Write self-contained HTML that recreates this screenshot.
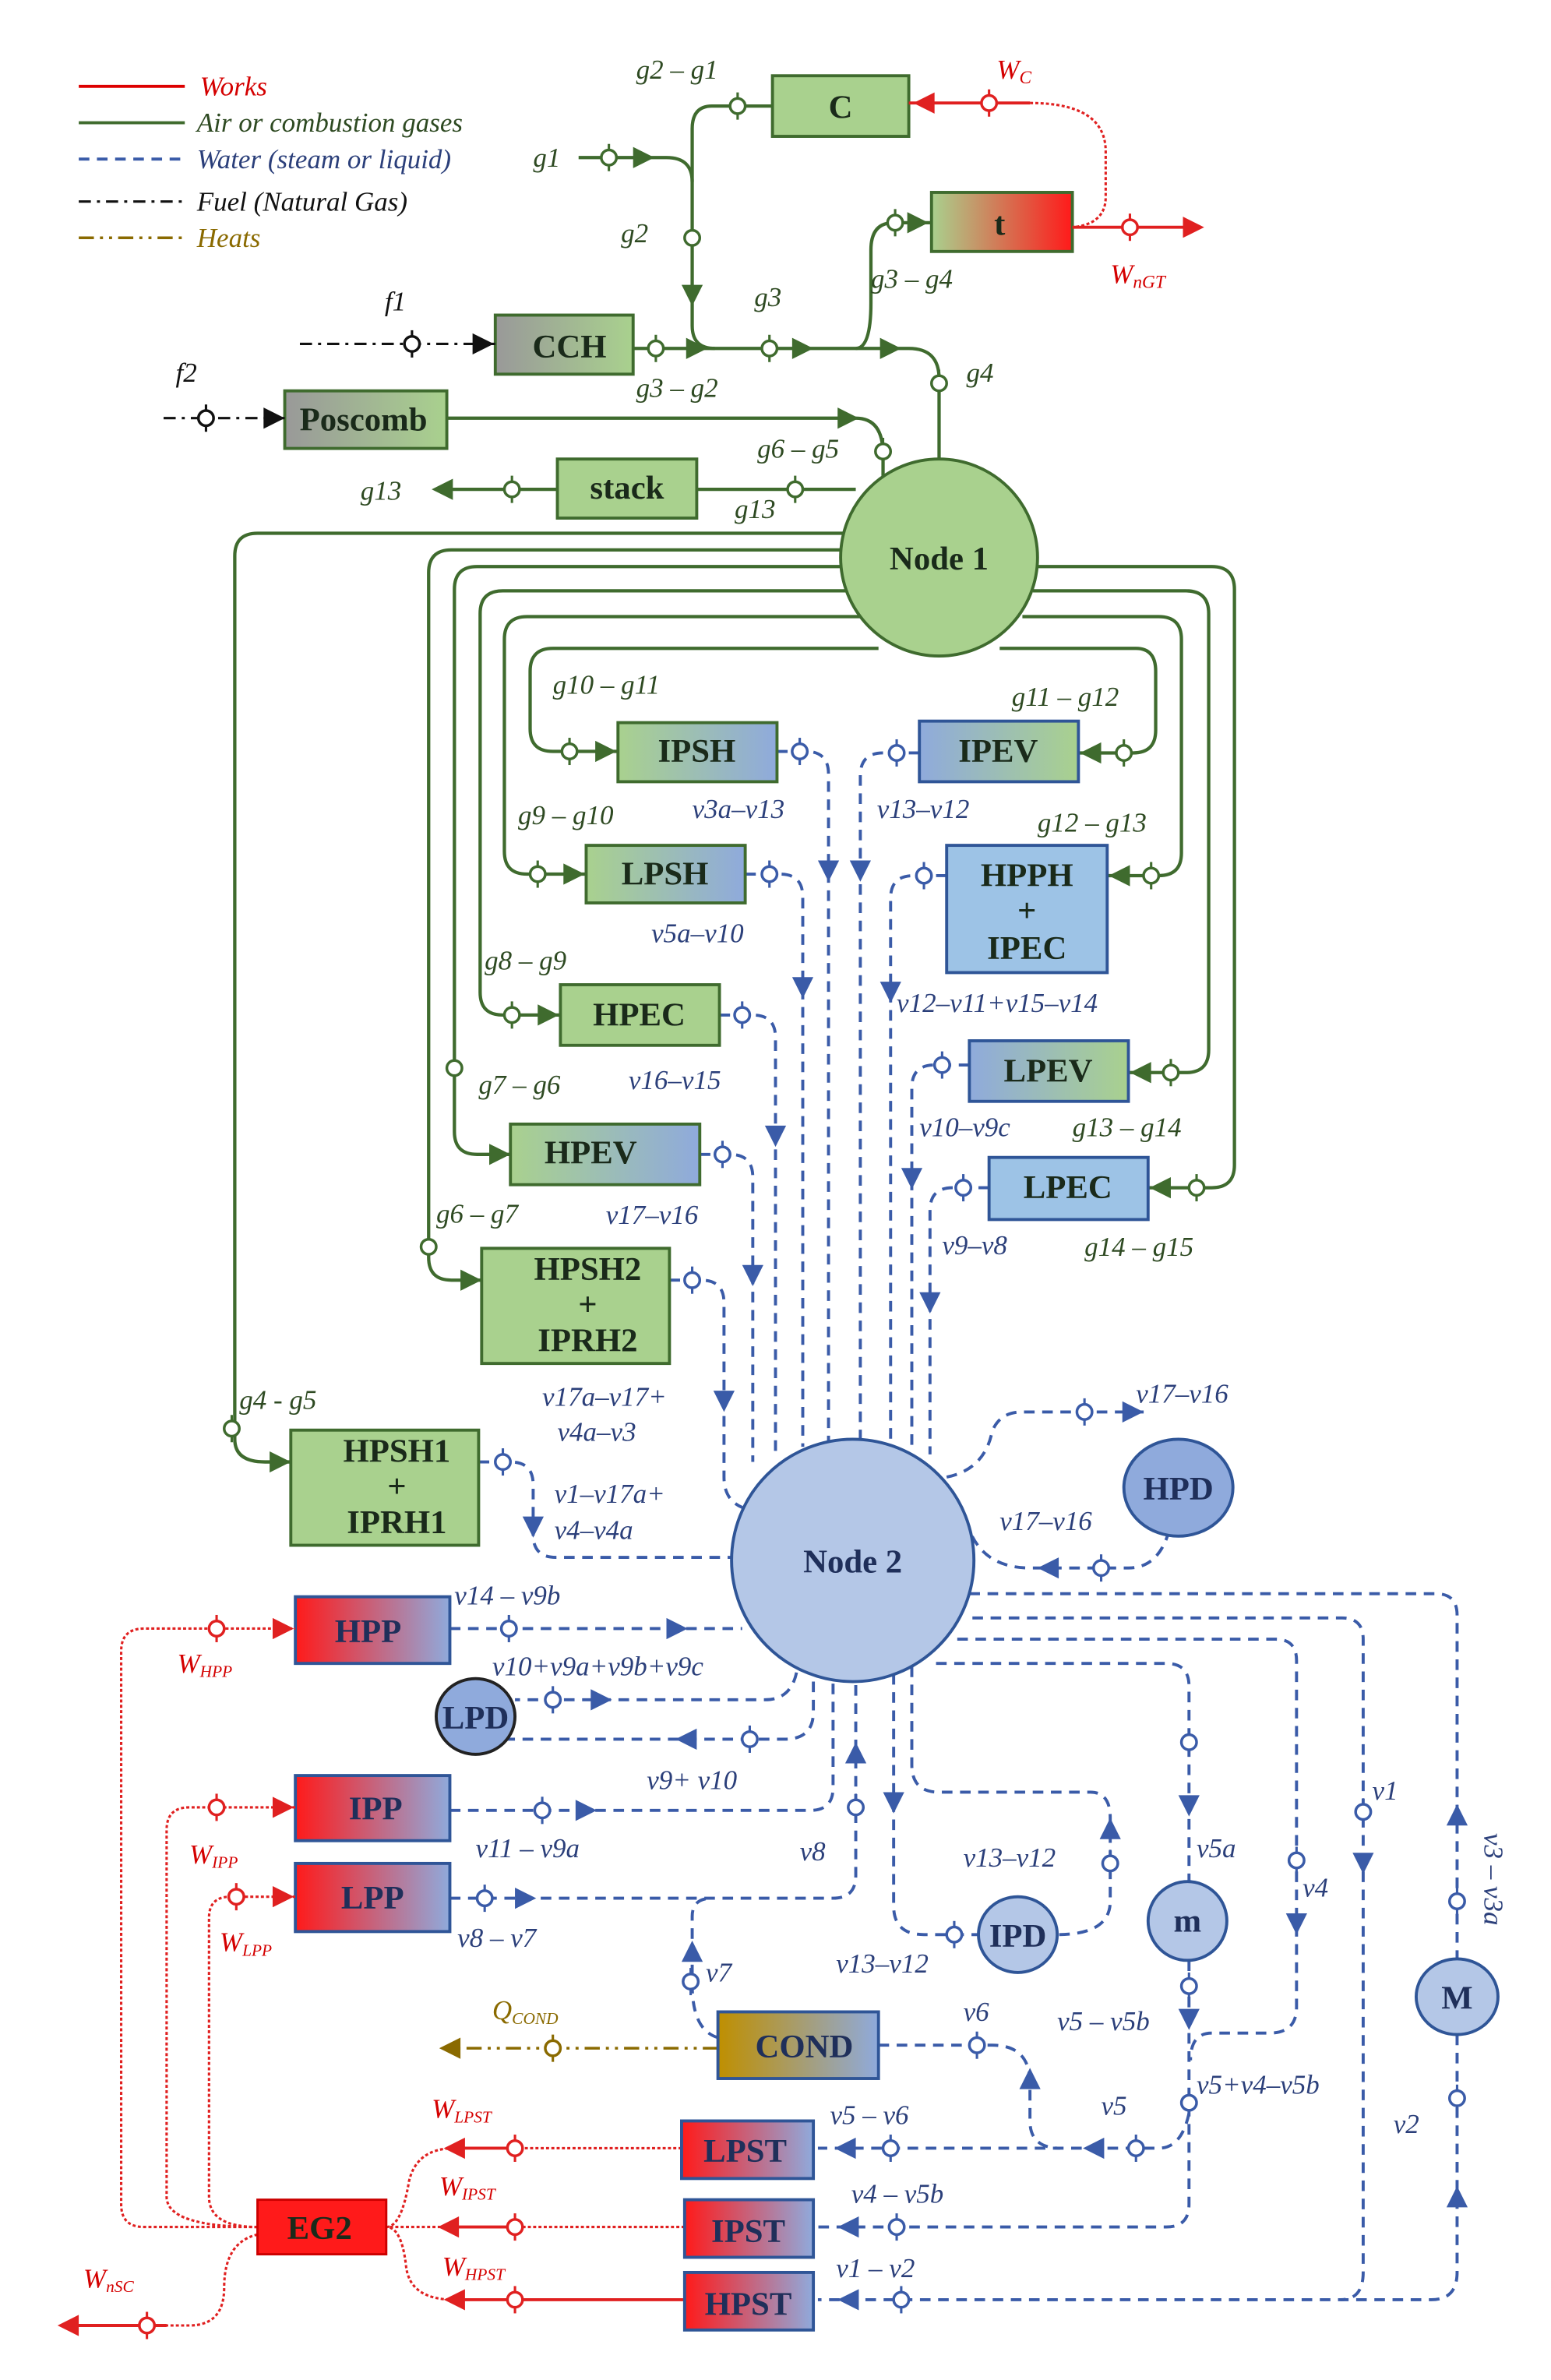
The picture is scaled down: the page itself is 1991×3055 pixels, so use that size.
<!DOCTYPE html>
<html><head><meta charset="utf-8"><style>
html,body{margin:0;padding:0;background:#fff;}
svg{display:block;}
text{font-family:"Liberation Serif",serif;}
.l{font-style:italic;font-size:18px;}
.lg{fill:#2e4a22;} .lb{fill:#2b3f7a;} .lr{fill:#d40000;} .ly{fill:#8a6a00;}
.bt{font-weight:bold;font-size:22px;fill:#1a2a1a;text-anchor:middle;}
.bb{font-weight:bold;font-size:22px;fill:#1f2f5a;text-anchor:middle;}
.g{stroke:#3f6b2e;stroke-width:2.2;fill:none;}
.b{stroke:#3a5ba8;stroke-width:2;fill:none;stroke-dasharray:7 5;}
.r{stroke:#e02020;stroke-width:1.6;fill:none;stroke-dasharray:2 1.5;}
.rs{stroke:#e02020;stroke-width:2;fill:none;}
.k{stroke:#111;stroke-width:1.6;fill:none;stroke-dasharray:8 4 2 4;}
.y{stroke:#8a6a00;stroke-width:1.8;fill:none;stroke-dasharray:10 4 2 4 2 4;}
.bxg{stroke:#3f6b2e;stroke-width:2;}
.bxb{stroke:#2f5597;stroke-width:2;}
</style></head><body>
<svg width="1991" height="3055" viewBox="0 0 1024 1571" preserveAspectRatio="none" xmlns="http://www.w3.org/2000/svg">
<defs>
<linearGradient id="gGB"><stop offset="0" stop-color="#a9d18e"/><stop offset="1" stop-color="#8faadc"/></linearGradient>
<linearGradient id="gBG"><stop offset="0" stop-color="#8faadc"/><stop offset="1" stop-color="#a9d18e"/></linearGradient>
<linearGradient id="gGR"><stop offset="0" stop-color="#a9d18e"/><stop offset="1" stop-color="#ff1a1a"/></linearGradient>
<linearGradient id="gKG"><stop offset="0" stop-color="#999"/><stop offset="1" stop-color="#a9d18e"/></linearGradient>
<linearGradient id="gRB"><stop offset="0" stop-color="#ff1a1a"/><stop offset="1" stop-color="#8faadc"/></linearGradient>
<linearGradient id="gYB"><stop offset="0" stop-color="#bf8f00"/><stop offset="1" stop-color="#8faadc"/></linearGradient>
<g id="a"><path d="M7,0 L-7,-7 L-7,7 Z"/></g>
<g id="p"><line x1="0" y1="-9" x2="0" y2="9" stroke-width="1.6"/><circle r="5" fill="#fff" stroke-width="1.8"/></g>
</defs>

<line x1="52" y1="57" x2="122" y2="57" stroke="#d00" stroke-width="2"/>
<text x="132" y="63" class="l lr">Works</text>
<line x1="52" y1="81" x2="122" y2="81" stroke="#3f6b2e" stroke-width="2"/>
<text x="130" y="87" class="l lg">Air or combustion gases</text>
<line x1="52" y1="105" x2="122" y2="105" stroke="#3a5ba8" stroke-width="2" stroke-dasharray="7 5"/>
<text x="130" y="111" class="l lb">Water (steam or liquid)</text>
<line x1="52" y1="133" x2="122" y2="133" class="k"/>
<text x="130" y="139" class="l" fill="#111">Fuel (Natural Gas)</text>
<line x1="52" y1="157" x2="122" y2="157" class="y"/>
<text x="130" y="163" class="l ly">Heats</text>

<rect x="510" y="50" width="90" height="40" fill="#a9d18e" class="bxg"/><text x="555" y="78" class="bt">C</text>
<text x="420" y="52" class="l lg">g2 – g1</text>
<path class="g" d="M510,70 H470 Q457,70 457,85 V215 Q457,230 472,230"/>
<use href="#p" x="487" y="70" stroke="#3f6b2e"/>
<use href="#p" x="457" y="157" stroke="#3f6b2e"/>
<use href="#a" transform="translate(457,195) rotate(90)" fill="#3f6b2e"/>
<text x="410" y="160" class="l lg">g2</text>
<text x="352" y="110" class="l lg">g1</text>
<path class="g" d="M382,104 H440 Q457,104 457,120"/>
<use href="#p" x="402" y="104" stroke="#3f6b2e"/>
<use href="#a" transform="translate(425,104)" fill="#3f6b2e"/>

<path class="rs" d="M600,68 H680"/>
<path class="r" d="M680,68 Q730,68 730,100 V130 Q730,148 708,150"/>
<use href="#a" transform="translate(610,68) rotate(180)" fill="#e02020"/>
<use href="#p" x="653" y="68" stroke="#e02020"/>
<text x="658" y="52" class="l lr">W<tspan font-size="12" dy="3">C</tspan></text>

<rect x="615" y="127" width="93" height="39" fill="url(#gGR)" class="bxg"/><text x="660" y="155" class="bt">t</text>
<path class="g" d="M565,230 Q575,230 575,200 V165 Q575,147 590,147 H615"/>
<use href="#p" x="591" y="147" stroke="#3f6b2e"/>
<use href="#a" transform="translate(606,147)" fill="#3f6b2e"/>
<text x="575" y="190" class="l lg">g3 – g4</text>
<path class="rs" d="M708,150 H790"/>
<use href="#p" x="746" y="150" stroke="#e02020"/>
<use href="#a" transform="translate(788,150)" fill="#e02020"/>
<text x="733" y="187" class="l lr">W<tspan font-size="12" dy="3">nGT</tspan></text>

<rect x="327" y="208" width="91" height="39" fill="url(#gKG)" class="bxg"/><text x="376" y="236" class="bt">CCH</text>
<path class="k" d="M198,227 H327"/>
<use href="#p" x="272" y="227" stroke="#111"/>
<use href="#a" transform="translate(319,227)" fill="#111"/>
<text x="254" y="205" class="l" fill="#111">f1</text>
<path class="g" d="M418,230 H600 Q620,230 620,250 V305"/>
<use href="#p" x="433" y="230" stroke="#3f6b2e"/>
<use href="#p" x="508" y="230" stroke="#3f6b2e"/>
<use href="#p" x="620" y="253" stroke="#3f6b2e"/>
<use href="#a" transform="translate(460,230)" fill="#3f6b2e"/>
<use href="#a" transform="translate(530,230)" fill="#3f6b2e"/>
<use href="#a" transform="translate(588,230)" fill="#3f6b2e"/>
<text x="420" y="262" class="l lg">g3 – g2</text>
<text x="498" y="202" class="l lg">g3</text>
<text x="638" y="252" class="l lg">g4</text>

<rect x="188" y="258" width="107" height="38" fill="url(#gKG)" class="bxg"/><text x="240" y="284" class="bt">Poscomb</text>
<path class="k" d="M108,276 H188"/>
<use href="#p" x="136" y="276" stroke="#111"/>
<use href="#a" transform="translate(181,276)" fill="#111"/>
<text x="116" y="252" class="l" fill="#111">f2</text>
<path class="g" d="M295,276 H565 Q583,276 583,300 V318"/>
<use href="#a" transform="translate(560,276)" fill="#3f6b2e"/>
<use href="#p" x="583" y="298" stroke="#3f6b2e"/>
<text x="500" y="302" class="l lg">g6 – g5</text>

<path class="g" d="M565,323 H460 M368,323 H290"/>
<rect x="368" y="303" width="92" height="39" fill="#a9d18e" class="bxg"/><text x="414" y="329" class="bt">stack</text>
<use href="#p" x="525" y="323" stroke="#3f6b2e"/>
<use href="#p" x="338" y="323" stroke="#3f6b2e"/>
<use href="#a" transform="translate(292,323) rotate(180)" fill="#3f6b2e"/>
<text x="485" y="342" class="l lg">g13</text>
<text x="238" y="330" class="l lg">g13</text>

<path class="g" d="M560,352 H170 Q155,352 155,367 V950 Q155,965 175,965 H192"/>
<use href="#p" x="153" y="943" stroke="#3f6b2e"/>
<use href="#a" transform="translate(185,965)" fill="#3f6b2e"/>
<text x="158" y="930" class="l lg">g4 - g5</text>

<path class="g" d="M560,363 H298 Q283,363 283,378 V830 Q283,845 298,845 H318"/>
<use href="#p" x="283" y="823" stroke="#3f6b2e"/>
<use href="#a" transform="translate(311,845)" fill="#3f6b2e"/>
<text x="288" y="807" class="l lg">g6 – g7</text>

<path class="g" d="M560,374 H315 Q300,374 300,389 V747 Q300,762 315,762 H337"/>
<use href="#p" x="300" y="705" stroke="#3f6b2e"/>
<use href="#a" transform="translate(330,762)" fill="#3f6b2e"/>
<text x="316" y="722" class="l lg">g7 – g6</text>

<path class="g" d="M562,390 H332 Q317,390 317,405 V655 Q317,670 332,670 H370"/>
<use href="#p" x="338" y="670" stroke="#3f6b2e"/>
<use href="#a" transform="translate(362,670)" fill="#3f6b2e"/>
<text x="320" y="640" class="l lg">g8 – g9</text>

<path class="g" d="M568,407 H348 Q333,407 333,422 V562 Q333,577 348,577 H387"/>
<use href="#p" x="355" y="577" stroke="#3f6b2e"/>
<use href="#a" transform="translate(379,577)" fill="#3f6b2e"/>
<text x="342" y="544" class="l lg">g9 – g10</text>

<path class="g" d="M580,428 H365 Q350,428 350,443 V481 Q350,496 365,496 H408"/>
<use href="#p" x="376" y="496" stroke="#3f6b2e"/>
<use href="#a" transform="translate(400,496)" fill="#3f6b2e"/>
<text x="365" y="458" class="l lg">g10 – g11</text>

<path class="g" d="M660,428 H750 Q763,428 763,443 V482 Q763,497 748,497 H712"/>
<use href="#p" x="742" y="497" stroke="#3f6b2e"/>
<use href="#a" transform="translate(720,497) rotate(180)" fill="#3f6b2e"/>
<text x="668" y="466" class="l lg">g11 – g12</text>

<path class="g" d="M675,407 H765 Q780,407 780,422 V563 Q780,578 765,578 H731"/>
<use href="#p" x="760" y="578" stroke="#3f6b2e"/>
<use href="#a" transform="translate(739,578) rotate(180)" fill="#3f6b2e"/>
<text x="685" y="549" class="l lg">g12 – g13</text>

<path class="g" d="M682,390 H783 Q798,390 798,405 V693 Q798,708 783,708 H745"/>
<use href="#p" x="773" y="708" stroke="#3f6b2e"/>
<use href="#a" transform="translate(753,708) rotate(180)" fill="#3f6b2e"/>
<text x="708" y="750" class="l lg">g13 – g14</text>

<path class="g" d="M685,374 H800 Q815,374 815,389 V769 Q815,784 800,784 H758"/>
<use href="#p" x="790" y="784" stroke="#3f6b2e"/>
<use href="#a" transform="translate(766,784) rotate(180)" fill="#3f6b2e"/>
<text x="716" y="829" class="l lg">g14 – g15</text>

<circle cx="620" cy="368" r="65" fill="#a9d18e" stroke="#3f6b2e" stroke-width="2"/>
<text x="620" y="376" class="bt">Node 1</text>

<path class="b" d="M513,496 H532 Q547,496 547,511 V955"/>
<use href="#p" x="528" y="496" stroke="#3a5ba8"/><use href="#a" transform="translate(547,575) rotate(90)" fill="#3a5ba8"/>
<text x="457" y="540" class="l lb">v3a–v13</text>
<path class="b" d="M607,497 H583 Q568,497 568,512 V952"/>
<use href="#p" x="592" y="497" stroke="#3a5ba8"/><use href="#a" transform="translate(568,575) rotate(90)" fill="#3a5ba8"/>
<text x="579" y="540" class="l lb">v13–v12</text>
<path class="b" d="M492,577 H515 Q530,577 530,592 V955"/>
<use href="#p" x="508" y="577" stroke="#3a5ba8"/><use href="#a" transform="translate(530,652) rotate(90)" fill="#3a5ba8"/>
<text x="430" y="622" class="l lb">v5a–v10</text>
<path class="b" d="M625,578 H603 Q588,578 588,593 V952"/>
<use href="#p" x="610" y="578" stroke="#3a5ba8"/><use href="#a" transform="translate(588,655) rotate(90)" fill="#3a5ba8"/>
<text x="592" y="668" class="l lb">v12–v11+v15–v14</text>
<path class="b" d="M475,670 H497 Q512,670 512,685 V958"/>
<use href="#p" x="490" y="670" stroke="#3a5ba8"/><use href="#a" transform="translate(512,750) rotate(90)" fill="#3a5ba8"/>
<text x="415" y="719" class="l lb">v16–v15</text>
<path class="b" d="M640,703 H617 Q602,703 602,718 V955"/>
<use href="#p" x="622" y="703" stroke="#3a5ba8"/><use href="#a" transform="translate(602,778) rotate(90)" fill="#3a5ba8"/>
<text x="607" y="750" class="l lb">v10–v9c</text>
<path class="b" d="M462,762 H482 Q497,762 497,777 V965"/>
<use href="#p" x="477" y="762" stroke="#3a5ba8"/><use href="#a" transform="translate(497,842) rotate(90)" fill="#3a5ba8"/>
<text x="400" y="808" class="l lb">v17–v16</text>
<path class="b" d="M653,784 H629 Q614,784 614,799 V960"/>
<use href="#p" x="636" y="784" stroke="#3a5ba8"/><use href="#a" transform="translate(614,860) rotate(90)" fill="#3a5ba8"/>
<text x="622" y="828" class="l lb">v9–v8</text>
<path class="b" d="M442,845 H463 Q478,845 478,860 V975 Q478,990 490,995"/>
<use href="#p" x="457" y="845" stroke="#3a5ba8"/><use href="#a" transform="translate(478,925) rotate(90)" fill="#3a5ba8"/>
<text x="358" y="928" class="l lb">v17a–v17+</text>
<text x="368" y="951" class="l lb">v4a–v3</text>
<path class="b" d="M316,965 H337 Q352,965 352,980 V1013 Q352,1028 367,1028 H485"/>
<use href="#p" x="332" y="965" stroke="#3a5ba8"/><use href="#a" transform="translate(352,1008) rotate(90)" fill="#3a5ba8"/>
<text x="366" y="992" class="l lb">v1–v17a+</text>
<text x="366" y="1016" class="l lb">v4–v4a</text>

<rect x="408" y="477" width="105" height="39" fill="url(#gGB)" class="bxg"/><text x="460" y="503" class="bt">IPSH</text>
<rect x="607" y="476" width="105" height="40" fill="url(#gBG)" class="bxb"/><text x="659" y="503" class="bt">IPEV</text>
<rect x="387" y="558" width="105" height="38" fill="url(#gGB)" class="bxg"/><text x="439" y="584" class="bt">LPSH</text>
<rect x="625" y="558" width="106" height="84" fill="#9dc3e6" class="bxb"/>
<text x="678" y="585" class="bt">HPPH</text><text x="678" y="608" class="bt">+</text><text x="678" y="633" class="bt">IPEC</text>
<rect x="370" y="650" width="105" height="40" fill="#a9d18e" class="bxg"/><text x="422" y="677" class="bt">HPEC</text>
<rect x="640" y="687" width="105" height="40" fill="url(#gBG)" class="bxb"/><text x="692" y="714" class="bt">LPEV</text>
<rect x="337" y="742" width="125" height="40" fill="url(#gGB)" class="bxg"/><text x="390" y="768" class="bt">HPEV</text>
<rect x="653" y="764" width="105" height="41" fill="#9dc3e6" class="bxb"/><text x="705" y="791" class="bt">LPEC</text>
<rect x="318" y="824" width="124" height="76" fill="#a9d18e" class="bxg"/>
<text x="388" y="845" class="bt">HPSH2</text><text x="388" y="868" class="bt">+</text><text x="388" y="892" class="bt">IPRH2</text>
<rect x="192" y="944" width="124" height="76" fill="#a9d18e" class="bxg"/>
<text x="262" y="965" class="bt">HPSH1</text><text x="262" y="988" class="bt">+</text><text x="262" y="1012" class="bt">IPRH1</text>

<path class="b" d="M625,975 Q650,970 655,945 Q660,932 675,932 H760"/>
<use href="#p" x="716" y="932" stroke="#3a5ba8"/><use href="#a" transform="translate(748,932)" fill="#3a5ba8"/>
<text x="750" y="926" class="l lb">v17–v16</text>
<path class="b" d="M772,1010 Q765,1035 745,1035 H680 Q650,1035 640,1010"/>
<use href="#p" x="727" y="1035" stroke="#3a5ba8"/><use href="#a" transform="translate(692,1035) rotate(180)" fill="#3a5ba8"/>
<text x="660" y="1010" class="l lb">v17–v16</text>
<ellipse cx="778" cy="982" rx="36" ry="32" fill="#8faadc" stroke="#2f5597" stroke-width="2"/>
<text x="778" y="990" class="bb">HPD</text>

<path class="b" d="M640,1052 H948 Q962,1052 962,1066 V1293"/>
<use href="#a" transform="translate(962,1198) rotate(-90)" fill="#3a5ba8"/>
<use href="#p" x="962" y="1255" stroke="#3a5ba8"/>
<text x="980" y="1210" class="l lb" transform="rotate(90 980 1210)">v3 – v3a</text>
<path class="b" d="M962,1343 V1500 Q962,1518 945,1518 H540"/>
<use href="#p" x="962" y="1385" stroke="#3a5ba8"/><use href="#a" transform="translate(962,1450) rotate(-90)" fill="#3a5ba8"/>
<text x="920" y="1408" class="l lb">v2</text>
<ellipse cx="962" cy="1318" rx="27" ry="25" fill="#b4c7e7" stroke="#2f5597" stroke-width="2"/>
<text x="962" y="1326" class="bb">M</text>

<path class="b" d="M642,1068 H886 Q900,1068 900,1082 V1500 Q900,1518 885,1518"/>
<use href="#p" x="900" y="1196" stroke="#3a5ba8"/><use href="#a" transform="translate(900,1230) rotate(90)" fill="#3a5ba8"/>
<text x="906" y="1188" class="l lb">v1</text>
<use href="#p" x="595" y="1518" stroke="#3a5ba8"/><use href="#a" transform="translate(560,1518) rotate(180)" fill="#3a5ba8"/>
<text x="552" y="1503" class="l lb">v1 – v2</text>

<path class="b" d="M632,1082 H842 Q856,1082 856,1096 V1325 Q856,1342 838,1342 H800 Q786,1342 786,1360"/>
<use href="#p" x="856" y="1228" stroke="#3a5ba8"/><use href="#a" transform="translate(856,1270) rotate(90)" fill="#3a5ba8"/>
<text x="860" y="1252" class="l lb">v4</text>

<path class="b" d="M618,1098 H770 Q785,1098 785,1113 V1242"/>
<use href="#p" x="785" y="1150" stroke="#3a5ba8"/><use href="#a" transform="translate(785,1192) rotate(90)" fill="#3a5ba8"/>
<text x="790" y="1226" class="l lb">v5a</text>
<path class="b" d="M785,1294 V1455 Q785,1470 770,1470 H540"/>
<use href="#p" x="785" y="1311" stroke="#3a5ba8"/><use href="#a" transform="translate(785,1333) rotate(90)" fill="#3a5ba8"/>
<text x="698" y="1340" class="l lb">v5 – v5b</text>
<use href="#p" x="785" y="1388" stroke="#3a5ba8"/>
<text x="790" y="1382" class="l lb">v5+v4–v5b</text>
<use href="#p" x="592" y="1470" stroke="#3a5ba8"/><use href="#a" transform="translate(560,1470) rotate(180)" fill="#3a5ba8"/>
<text x="562" y="1454" class="l lb">v4 – v5b</text>
<ellipse cx="784" cy="1268" rx="26" ry="26" fill="#b4c7e7" stroke="#2f5597" stroke-width="2"/>
<text x="784" y="1275" class="bb">m</text>

<path class="b" d="M785,1395 Q780,1418 765,1418 H540"/>
<use href="#p" x="750" y="1418" stroke="#3a5ba8"/><use href="#a" transform="translate(722,1418) rotate(180)" fill="#3a5ba8"/>
<use href="#p" x="588" y="1418" stroke="#3a5ba8"/><use href="#a" transform="translate(558,1418) rotate(180)" fill="#3a5ba8"/>
<text x="727" y="1396" class="l lb">v5</text>
<text x="548" y="1402" class="l lb">v5 – v6</text>

<path class="b" d="M602,1100 V1165 Q602,1183 620,1183 H720 Q733,1183 733,1200 V1255 Q733,1277 698,1277"/>
<use href="#p" x="733" y="1230" stroke="#3a5ba8"/><use href="#a" transform="translate(733,1207) rotate(-90)" fill="#3a5ba8"/>
<text x="636" y="1232" class="l lb">v13–v12</text>
<path class="b" d="M590,1105 V1258 Q590,1277 610,1277 H646"/>
<use href="#a" transform="translate(590,1190) rotate(90)" fill="#3a5ba8"/>
<use href="#p" x="630" y="1277" stroke="#3a5ba8"/>
<text x="552" y="1302" class="l lb">v13–v12</text>
<ellipse cx="672" cy="1277" rx="26" ry="25" fill="#b4c7e7" stroke="#2f5597" stroke-width="2"/>
<text x="672" y="1285" class="bb">IPD</text>

<path class="b" d="M580,1350 H655 Q680,1350 680,1375 V1400 Q680,1418 700,1418"/>
<use href="#p" x="645" y="1350" stroke="#3a5ba8"/><use href="#a" transform="translate(680,1372) rotate(-90)" fill="#3a5ba8"/>
<text x="636" y="1334" class="l lb">v6</text>
<path class="b" d="M474,1345 Q457,1340 457,1310 V1265 Q457,1253 470,1253"/>
<use href="#p" x="456" y="1308" stroke="#3a5ba8"/><use href="#a" transform="translate(457,1288) rotate(-90)" fill="#3a5ba8"/>
<text x="466" y="1308" class="l lb">v7</text>
<path class="y" d="M474,1352 H295"/>
<use href="#p" x="365" y="1352" stroke="#8a6a00"/>
<use href="#a" transform="translate(297,1352) rotate(180)" fill="#8a6a00"/>
<text x="325" y="1333" class="l ly">Q<tspan font-size="11" dy="3">COND</tspan></text>
<rect x="474" y="1328" width="106" height="44" fill="url(#gYB)" class="bxb"/><text x="531" y="1358" class="bb">COND</text>

<path class="b" d="M297,1075 H490"/>
<use href="#p" x="336" y="1075" stroke="#3a5ba8"/><use href="#a" transform="translate(447,1075)" fill="#3a5ba8"/>
<text x="300" y="1059" class="l lb">v14 – v9b</text>
<path class="b" d="M527,1092 Q527,1122 505,1122 H340"/>
<use href="#p" x="365" y="1122" stroke="#3a5ba8"/><use href="#a" transform="translate(397,1122)" fill="#3a5ba8"/>
<text x="325" y="1106" class="l lb">v10+v9a+v9b+v9c</text>
<path class="b" d="M537,1098 V1130 Q537,1148 518,1148 H335"/>
<use href="#p" x="495" y="1148" stroke="#3a5ba8"/><use href="#a" transform="translate(453,1148) rotate(180)" fill="#3a5ba8"/>
<text x="427" y="1181" class="l lb">v9+ v10</text>
<ellipse cx="314" cy="1133" rx="26" ry="25" fill="#8faadc" stroke="#222" stroke-width="2"/>
<text x="314" y="1141" class="bb">LPD</text>

<path class="b" d="M297,1195 H535 Q550,1195 550,1180 V1100"/>
<use href="#p" x="358" y="1195" stroke="#3a5ba8"/><use href="#a" transform="translate(387,1195)" fill="#3a5ba8"/>
<text x="314" y="1226" class="l lb">v11 – v9a</text>
<path class="b" d="M297,1253 H550 Q565,1253 565,1238 V1108"/>
<use href="#p" x="320" y="1253" stroke="#3a5ba8"/><use href="#a" transform="translate(347,1253)" fill="#3a5ba8"/>
<use href="#p" x="565" y="1193" stroke="#3a5ba8"/><use href="#a" transform="translate(565,1157) rotate(-90)" fill="#3a5ba8"/>
<text x="528" y="1228" class="l lb">v8</text>
<text x="302" y="1285" class="l lb">v8 – v7</text>

<rect x="195" y="1054" width="102" height="44" fill="url(#gRB)" class="bxb"/><text x="243" y="1084" class="bb">HPP</text>
<rect x="195" y="1172" width="102" height="43" fill="url(#gRB)" class="bxb"/><text x="248" y="1201" class="bb">IPP</text>
<rect x="195" y="1230" width="102" height="45" fill="url(#gRB)" class="bxb"/><text x="246" y="1260" class="bb">LPP</text>

<circle cx="563" cy="1030" r="80" fill="#b4c7e7" stroke="#2f5597" stroke-width="2"/>
<text x="563" y="1038" class="bb">Node 2</text>

<path class="r" d="M170,1470 H95 Q80,1470 80,1455 V1090 Q80,1075 95,1075 H195"/>
<use href="#p" x="143" y="1075" stroke="#e02020"/><use href="#a" transform="translate(187,1075)" fill="#e02020"/>
<text x="117" y="1104" class="l lr">W<tspan font-size="11" dy="3">HPP</tspan></text>
<path class="r" d="M170,1470 Q110,1470 110,1450 V1208 Q110,1193 125,1193 H195"/>
<use href="#p" x="143" y="1193" stroke="#e02020"/><use href="#a" transform="translate(187,1193)" fill="#e02020"/>
<text x="125" y="1230" class="l lr">W<tspan font-size="11" dy="3">IPP</tspan></text>
<path class="r" d="M170,1470 Q138,1470 138,1450 V1266 Q138,1252 152,1252 H195"/>
<use href="#p" x="156" y="1252" stroke="#e02020"/><use href="#a" transform="translate(187,1252)" fill="#e02020"/>
<text x="145" y="1288" class="l lr">W<tspan font-size="11" dy="3">LPP</tspan></text>

<path class="r" d="M450,1418 H300 Q275,1418 270,1440 Q265,1470 255,1470"/>
<path class="rs" d="M340,1418 H300"/>
<use href="#p" x="340" y="1418" stroke="#e02020"/><use href="#a" transform="translate(300,1418) rotate(180)" fill="#e02020"/>
<text x="285" y="1398" class="l lr">W<tspan font-size="11" dy="3">LPST</tspan></text>
<path class="r" d="M452,1470 H255"/>
<path class="rs" d="M340,1470 H295"/>
<use href="#p" x="340" y="1470" stroke="#e02020"/><use href="#a" transform="translate(296,1470) rotate(180)" fill="#e02020"/>
<text x="290" y="1449" class="l lr">W<tspan font-size="11" dy="3">IPST</tspan></text>
<path class="rs" d="M452,1518 H300"/>
<path class="r" d="M300,1518 Q270,1518 268,1495 Q265,1470 255,1470"/>
<use href="#p" x="340" y="1518" stroke="#e02020"/><use href="#a" transform="translate(300,1518) rotate(180)" fill="#e02020"/>
<text x="292" y="1502" class="l lr">W<tspan font-size="11" dy="3">HPST</tspan></text>
<path class="r" d="M170,1475 Q148,1480 148,1510 Q148,1535 125,1535 H40"/>
<path class="rs" d="M110,1535 H40"/>
<use href="#p" x="97" y="1535" stroke="#e02020"/><use href="#a" transform="translate(45,1535) rotate(180)" fill="#e02020"/>
<text x="55" y="1510" class="l lr">W<tspan font-size="11" dy="3">nSC</tspan></text>

<rect x="450" y="1400" width="87" height="38" fill="url(#gRB)" class="bxb"/><text x="492" y="1427" class="bb">LPST</text>
<rect x="452" y="1452" width="85" height="38" fill="url(#gRB)" class="bxb"/><text x="494" y="1480" class="bb">IPST</text>
<rect x="452" y="1500" width="85" height="38" fill="url(#gRB)" class="bxb"/><text x="494" y="1528" class="bb">HPST</text>
<rect x="170" y="1452" width="85" height="36" fill="#ff1a1a" stroke="#c00" stroke-width="1.5"/><text x="211" y="1478" class="bt" fill="#111">EG2</text>
</svg>
</body></html>
